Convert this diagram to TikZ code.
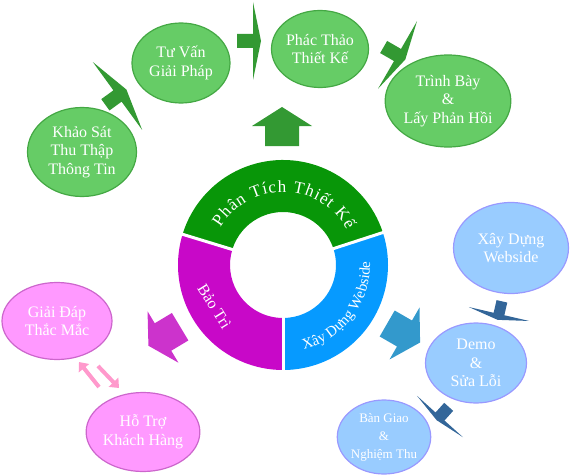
\documentclass[tikz,border=0pt]{standalone}
\usepackage{fontspec}
\setmainfont{Liberation Serif}
\usetikzlibrary{shapes.geometric,decorations.text,arrows.meta}
\definecolor{ringgreen}{HTML}{089608}
\definecolor{ringmagenta}{HTML}{C808C8}
\definecolor{ringblue}{HTML}{069AFF}
\definecolor{bubblegreen}{HTML}{66CC66}
\definecolor{edgegreen}{HTML}{44A844}
\definecolor{bubblepink}{HTML}{FF99FF}
\definecolor{edgepink}{HTML}{CC66CC}
\definecolor{bubbleblue}{HTML}{99CCFF}
\definecolor{edgeblue}{HTML}{9999FF}
\definecolor{arrowgreen}{HTML}{339933}
\definecolor{arrowmagenta}{HTML}{CC33CC}
\definecolor{arrowblue}{HTML}{3399CC}
\definecolor{arrownavy}{HTML}{336699}
\definecolor{arrowpink}{HTML}{FF99CC}
\newcommand\ringfont{\fontsize{17}{17}\selectfont}
\tikzset{
  pics/blockarrow/.style n args={4}{code={
    \fill (-#1,-#2/2) -- (0,-#2/2) -- (0,-#3) -- (#4,0) -- (0,#3) -- (0,#2/2) -- (-#1,#2/2) -- cycle;
  }}
}

\begin{document}
\begin{tikzpicture}[x=1pt,y=1pt,
    bubble/.style={ellipse,draw,line width=1.2pt,inner sep=0pt,align=center,text=white,font=\fontsize{16}{18.5}\selectfont},
    greenbubble/.style={bubble,fill=bubblegreen,draw=edgegreen},
    pinkbubble/.style={bubble,fill=bubblepink,draw=edgepink},
    bluebubble/.style={bubble,fill=bubbleblue,draw=edgeblue},
    pinkarrow/.style={arrowpink,line width=4pt,-{Triangle[width=13pt,length=8pt]}}]
				\useasboundingbox (0,0) rectangle (570,475);
				\coordinate (ring) at (283,210);
				\fill[ringgreen] ([shift={(18:105pt)}]ring) arc[start angle=18,end angle=163,radius=105pt] -- ([shift={(163:53pt)}]ring) arc[start angle=163,end angle=18,radius=53pt] -- cycle;
				\fill[ringmagenta] ([shift={(163:105pt)}]ring) arc[start angle=163,end angle=270,radius=105pt] -- ([shift={(270:53pt)}]ring) arc[start angle=270,end angle=163,radius=53pt] -- cycle;
				\fill[ringblue] ([shift={(270:105pt)}]ring) arc[start angle=270,end angle=378,radius=105pt] -- ([shift={(378:53pt)}]ring) arc[start angle=378,end angle=270,radius=53pt] -- cycle;
				\foreach \a in {18,163,270}
					\draw[white,line width=3pt] ([shift={(\a:50pt)}]ring) -- ([shift={(\a:108pt)}]ring);
				\path[decorate,decoration={text along path,text={|\ringfont|Phân Tích Thiết Kế},text color=white,text align={fit to path}}] ([shift={(149:73pt)}]ring) arc[start angle=149,end angle=29,radius=73pt];
				\path[decorate,decoration={text along path,text={|\fontsize{15}{15}\selectfont|Xây Dựng Webside},text color=white,text align=center}] ([shift={(-81:87pt)}]ring) arc[start angle=-81,end angle=7,radius=87pt];
				\node[rotate=-58,text=white,font=\fontsize{16}{16}\selectfont] (baotri) at ([shift={(211:80pt)}]ring) {Bảo Trì};
				\node[greenbubble,minimum width=109pt,minimum height=89pt] (khaosat) at (82,323) {Khảo Sát\\Thu Thập\\Thông Tin};
				\node[greenbubble,minimum width=98pt,minimum height=80pt] (tuvan) at (181,412) {Tư Vấn\\Giải Pháp};
				\node[greenbubble,minimum width=97pt,minimum height=77pt] (phacthao) at (320,426) {Phác Thảo\\Thiết Kế};
				\node[greenbubble,minimum width=114pt,minimum height=92pt] (trinhbay) at (448,374) {Trình Bày\\\&\\Lấy Phản Hồi};
				\node[pinkbubble,minimum width=110pt,minimum height=77pt] (giaidap) at (57,154) {Giải Đáp\\Thắc Mắc};
				\node[pinkbubble,minimum width=99pt,minimum height=79pt] (hotro) at (143,43) {Hỗ Trợ\\Khách Hàng};
				\node[bluebubble,minimum width=115pt,minimum height=91pt] (xaydung) at (511,227) {Xây Dựng\\Webside};
				\node[bluebubble,minimum width=101pt,minimum height=80pt] (demo) at (476,112) {Demo\\\&\\Sửa Lỗi};
				\node[bluebubble,minimum width=92pt,minimum height=74pt,font=\fontsize{13}{18}\selectfont] (bangiao) at (384,38) {Bàn Giao\\\&\\Nghiệm Thu};
				\pic[fill=arrowgreen,rotate=36] at (117.5,379) {blockarrow={15}{14}{42}{11}};
				\pic[fill=arrowgreen] at (253,434) {blockarrow={16}{14}{39}{8}};
				\pic[fill=arrowgreen,rotate=-30] at (397.5,420) {blockarrow={16}{14}{39}{9}};
				\pic[fill=arrowgreen,rotate=90] at (282,349) {blockarrow={20}{34}{30}{19}};
				\pic[fill=arrowmagenta,rotate=211] at (163,138) {blockarrow={20}{32}{30}{17}};
				\pic[fill=arrowblue,rotate=-30] at (404.5,141.5) {blockarrow={20}{30}{30}{18}};
				\pic[fill=arrownavy,rotate=-103] at (499,161) {blockarrow={13}{11}{31}{6}};
				\pic[fill=arrownavy,rotate=-132] at (440,58.5) {blockarrow={13}{12}{31}{5}};
				\coordinate (pinkA1) at (99,88);
				\coordinate (pinkA2) at (79,113);
				\coordinate (pinkB1) at (98,109);
				\coordinate (pinkB2) at (119,87);
				\draw[pinkarrow] (pinkA1) -- (pinkA2);
				\draw[pinkarrow] (pinkB1) -- (pinkB2);
			\end{tikzpicture}
\end{document}
